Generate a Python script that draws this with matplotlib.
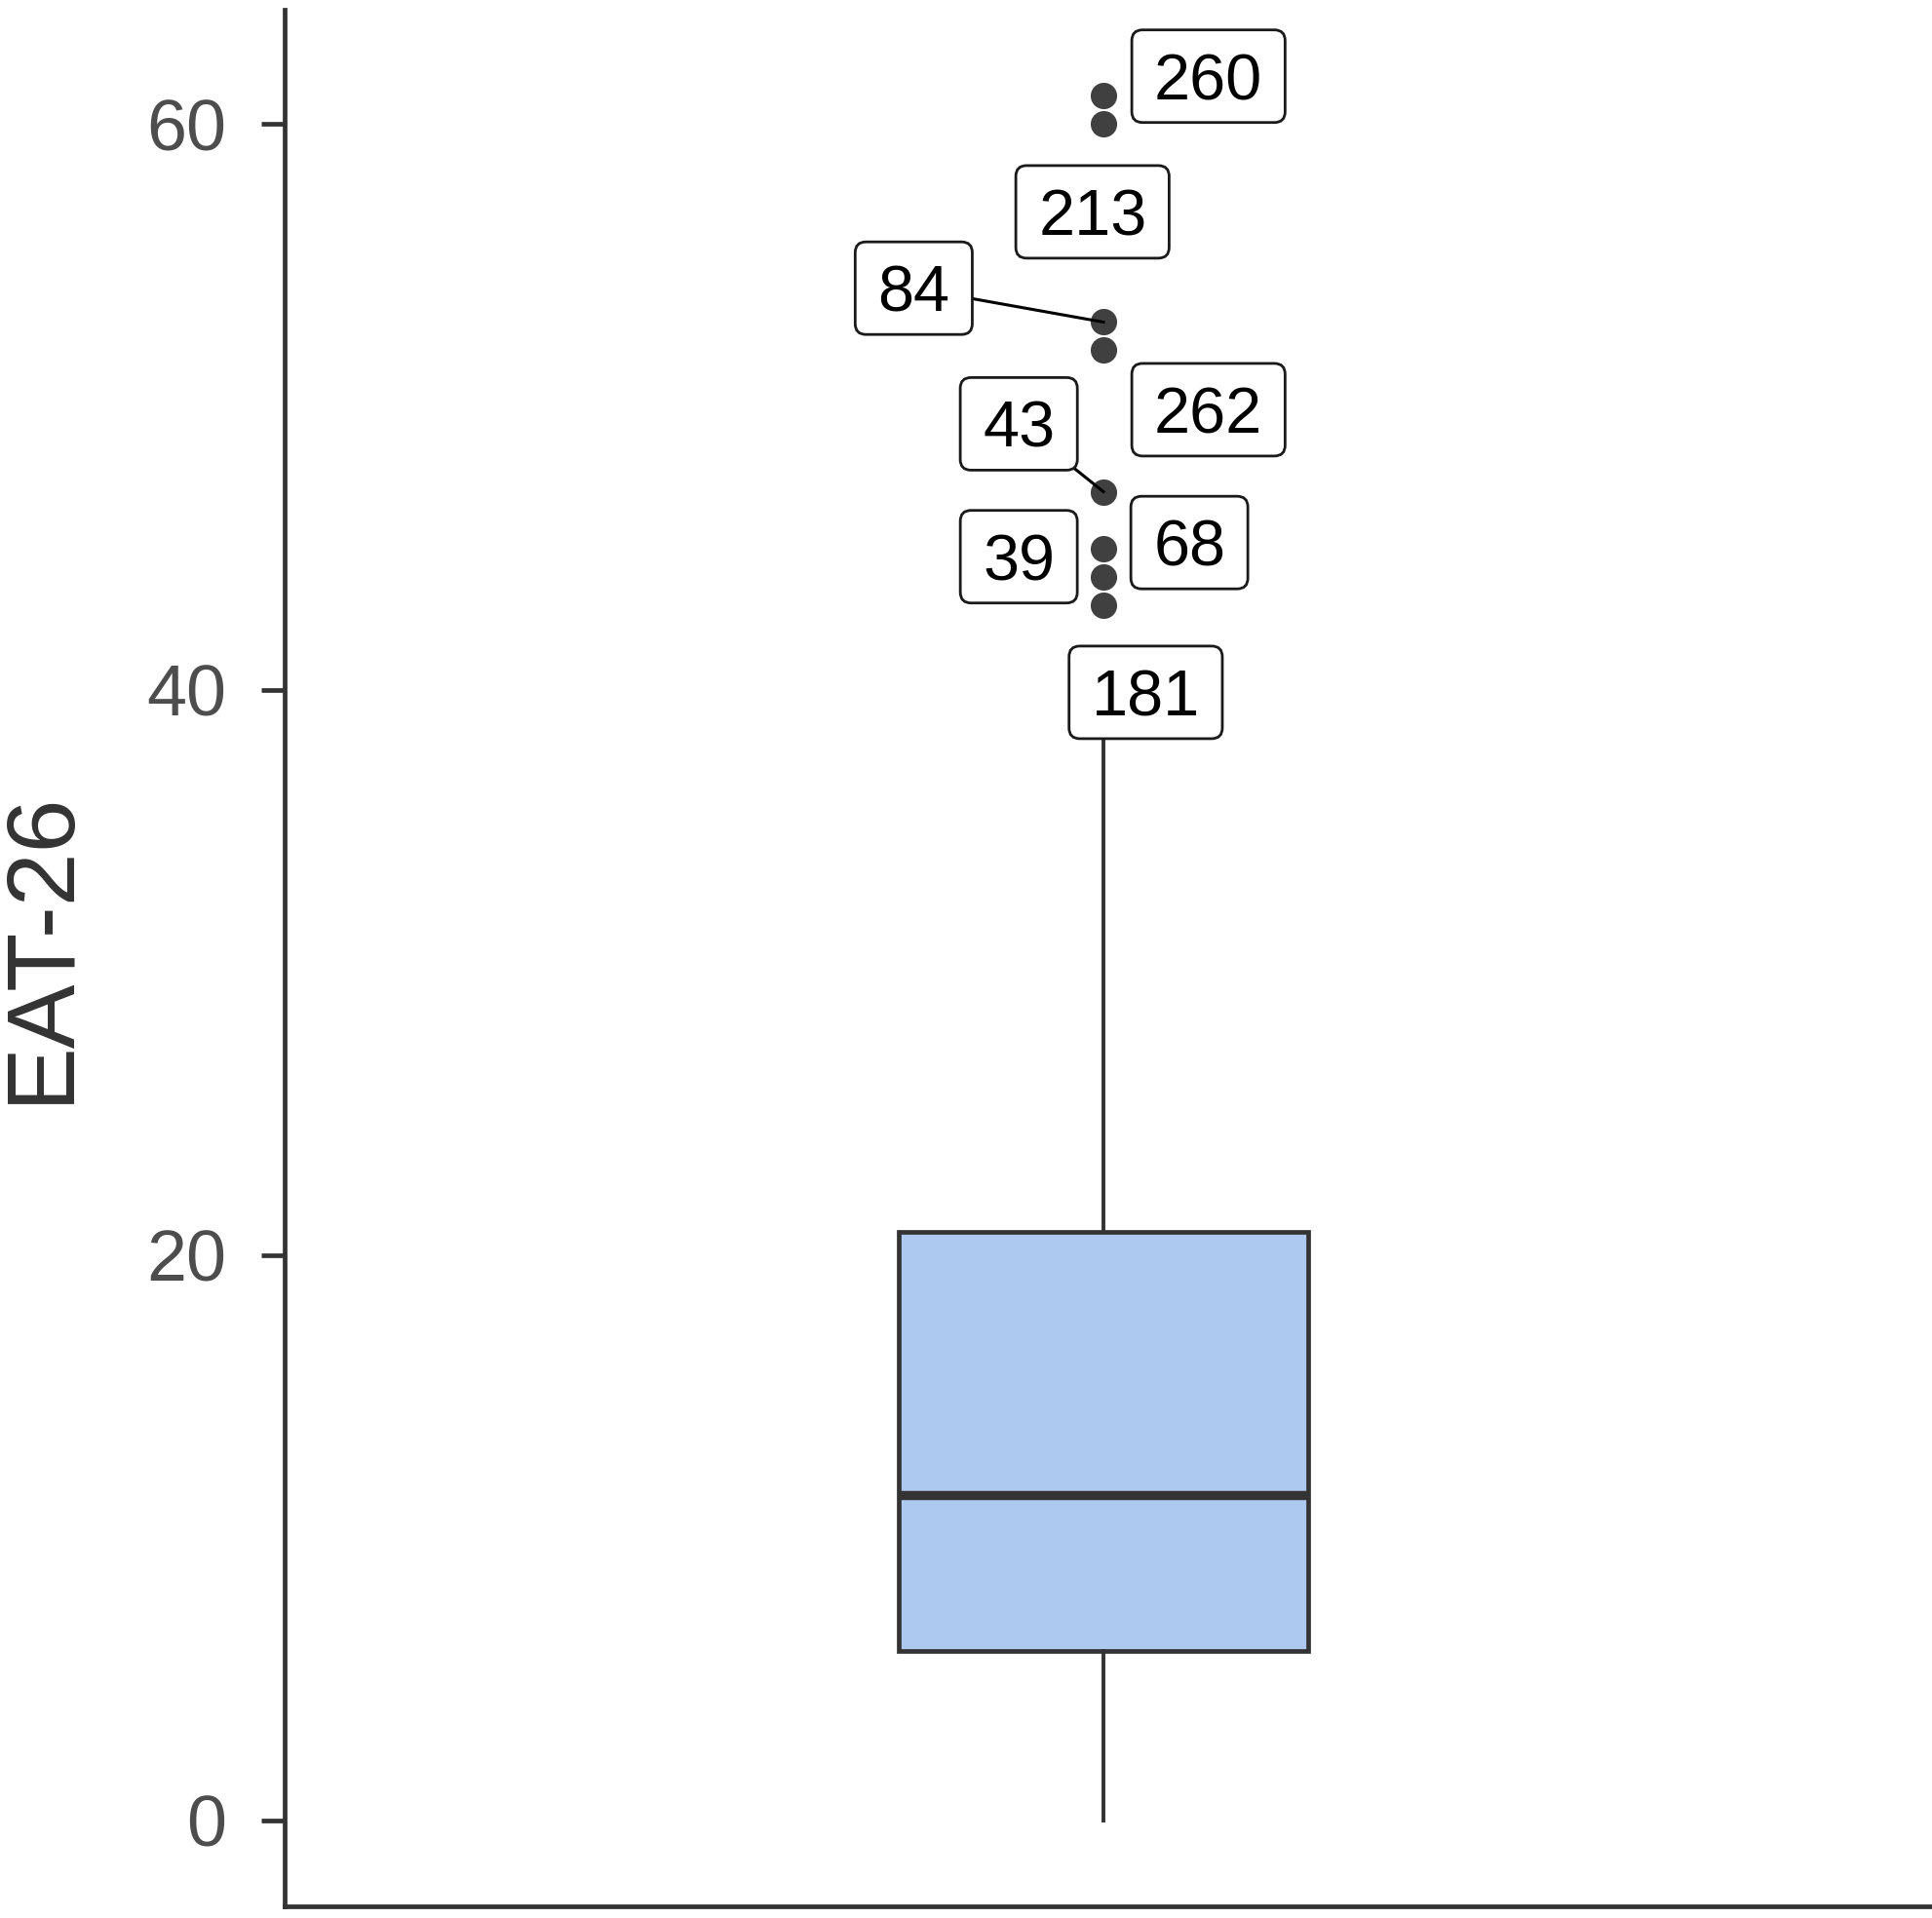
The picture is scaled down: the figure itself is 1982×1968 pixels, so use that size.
import matplotlib
matplotlib.use("Agg")
import matplotlib.pyplot as plt
from matplotlib.patches import FancyBboxPatch
from matplotlib.transforms import IdentityTransform

plt.rcParams['font.family'] = ['Liberation Sans', 'DejaVu Sans']

# box summary (EAT-26 scores)
q1, median, q3 = 6.0, 11.5, 20.8
whisker_low, whisker_high = 0.0, 41.0

# outliers and their case ids
outlier_values = [61, 60, 53, 52, 47, 45, 44, 43]
outlier_ids = ['260', '213', '84', '262', '43', '68', '39', '181']

# where the repelled labels sit (x, y in data units)
label_pos = [(1.077, 61.7), (0.992, 56.9), (0.861, 54.2), (1.077, 49.9),
             (0.938, 49.4), (1.063, 45.2), (0.938, 44.7), (1.031, 39.9)]
show_segment = [False, False, True, False, True, False, False, False]

dark = '#333333'

fig = plt.figure(figsize=(19.83, 19.68), dpi=100)
ax = fig.add_axes([0.1473, 0.0061, 0.8527, 0.9888])
ax.set_xlim(0.4, 1.608)
ax.set_ylim(-3.05, 64.05)

stats = [dict(med=median, q1=q1, q3=q3, whislo=whisker_low, whishi=whisker_high,
              fliers=[])]
ax.bxp(stats, positions=[1.0], widths=0.3, patch_artist=True, showcaps=False,
       boxprops=dict(facecolor='#ADC9EF', edgecolor=dark, linewidth=3.4),
       medianprops=dict(color=dark, linewidth=6.8, solid_capstyle='butt'),
       whiskerprops=dict(color=dark, linewidth=2.8), zorder=2)

ax.plot([1.0] * len(outlier_values), outlier_values, 'o', color='#404040',
        markersize=19.5, markeredgewidth=0, zorder=3)

# labels: text first, then a rounded box sized around it (wider than tall)
renderer = fig.canvas.get_renderer()
box_h = 95       # px
side_pad = 23    # px
for val, lab, (lx, ly), seg in zip(outlier_values, outlier_ids, label_pos, show_segment):
    if seg:
        ax.plot([lx, 1.0], [ly, val], color='black', linewidth=2.2, zorder=3)
    t = ax.annotate(lab, xy=(lx, ly), xytext=(0, -17.3), textcoords='offset points',
                    fontsize=48, ha='center', va='baseline', color='black', zorder=5)
    w = t.get_window_extent(renderer).width + 2 * side_pad
    cx, cy = ax.transData.transform((lx, ly))
    ax.add_patch(FancyBboxPatch((cx - w / 2, cy - box_h / 2), w, box_h,
                                boxstyle='round,pad=0,rounding_size=11',
                                facecolor='white', edgecolor='#1a1a1a', linewidth=2.0,
                                transform=IdentityTransform(), zorder=4))

ax.set_yticks([0, 20, 40, 60])
ax.set_xticks([])
ax.set_ylabel('EAT-26', fontsize=71, color='#333333')
ax.yaxis.set_label_coords(-0.120, 0.506)
ax.tick_params(axis='y', labelsize=53, labelcolor='#4D4D4D', length=17,
               width=3.4, color=dark, pad=26)
for s in ['top', 'right']:
    ax.spines[s].set_visible(False)
for s in ['left', 'bottom']:
    ax.spines[s].set_color(dark)
    ax.spines[s].set_linewidth(3.4)

fig.savefig('out.png', dpi=100)
